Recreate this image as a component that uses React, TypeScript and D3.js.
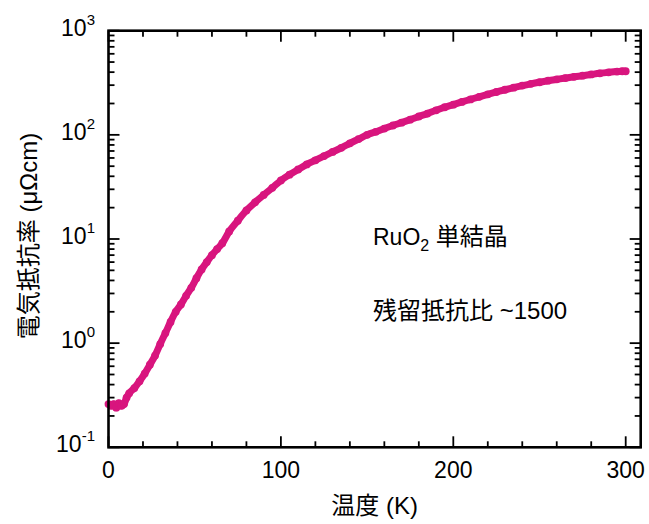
import React from "react";
import * as d3 from "d3";

const temps = [0, 1.5, 3, 4.5, 6, 7.5, 9, 10.5, 12, 15, 18, 21, 24, 27, 30, 33, 36, 39, 42, 45, 48, 51, 54, 57, 60, 63, 66, 70, 75, 80, 85, 90, 95, 100, 105, 110, 115, 120, 125, 130, 135, 140, 145, 150, 155, 160, 165, 170, 175, 180, 185, 190, 195, 200, 205, 210, 215, 220, 225, 230, 235, 240, 245, 250, 255, 260, 265, 270, 275, 280, 285, 290, 295, 298, 300];
const rho = [0.26, 0.25, 0.26, 0.24, 0.265, 0.25, 0.26, 0.3, 0.33, 0.37, 0.43, 0.51, 0.62, 0.76, 0.98, 1.25, 1.6, 2.0, 2.35, 2.85, 3.4, 4.2, 5.1, 6.0, 7.0, 8.0, 9.1, 11.8, 15, 18.8, 22.5, 26.5, 31, 36.5, 41.5, 46.5, 52, 57, 62.5, 68.5, 75, 83, 91, 100, 107, 115, 123, 131, 140, 150, 160, 172, 184, 195, 207, 219, 232, 245, 258, 271, 284, 297, 309, 320, 331, 341, 351, 361, 370, 380, 390, 398, 405, 408, 408];

const xMajor = [0, 100, 200, 300];
const xMinor = d3.range(0, 301, 20);
const yExps = [-1, 0, 1, 2, 3];

const W = 649, H = 524;
const L = 108.5, R = 640.7, T = 30.7, B = 447.3;
const COLOR = "#d8157e";
const FONT = "'Liberation Sans', Arial, 'Noto Sans CJK JP', sans-serif";

export default function App() {
  const x = d3.scaleLinear().domain([0, 308.7]).range([L, R]);
  const y = d3.scaleLog().domain([0.1, 1000]).range([B, T]);
  const pts = temps.map((t, i) => [t, rho[i]] as [number, number]);
  const line = d3.line<[number, number]>().x(d => x(d[0])).y(d => y(d[1])).curve(d3.curveMonotoneX);

  const yMinor: number[] = [];
  for (let e = -1; e < 3; e++) for (let k = 2; k <= 9; k++) yMinor.push(k * Math.pow(10, e));

  return (
    <svg width={W} height={H} style={{ position: "absolute", left: 0, top: 0, background: "#fff" }} fontFamily={FONT}>
      <rect x={0} y={0} width={W} height={H} fill="#fff" />
      <path d={line(pts) || ""} fill="none" stroke={COLOR} strokeWidth={7} strokeLinejoin="round" />
      {pts.map((p, i) => (
        <circle key={i} cx={x(p[0])} cy={y(p[1])} r={3.9} fill={COLOR} />
      ))}
      <g stroke="#000" strokeWidth={1.8}>
        {xMinor.map(v => {
          const len = xMajor.includes(v) ? 11 : 6;
          return (
            <g key={"x" + v}>
              <line x1={x(v)} x2={x(v)} y1={B} y2={B - len} />
              <line x1={x(v)} x2={x(v)} y1={T} y2={T + len} />
            </g>
          );
        })}
        {yExps.map(e => (
          <g key={"ye" + e}>
            <line x1={L} x2={L + 11} y1={y(Math.pow(10, e))} y2={y(Math.pow(10, e))} />
            <line x1={R} x2={R - 11} y1={y(Math.pow(10, e))} y2={y(Math.pow(10, e))} />
          </g>
        ))}
        {yMinor.map((v, i) => (
          <g key={"ym" + i}>
            <line x1={L} x2={L + 6} y1={y(v)} y2={y(v)} />
            <line x1={R} x2={R - 6} y1={y(v)} y2={y(v)} />
          </g>
        ))}
      </g>
      <rect x={L} y={T} width={R - L} height={B - T} fill="none" stroke="#000" strokeWidth={2.6} />
      {xMajor.map(v => (
        <text key={"xl" + v} x={x(v)} y={478} textAnchor="middle" fontSize={23}>{v}</text>
      ))}
      {yExps.map(e => (
        <text key={"yl" + e} x={95} y={y(Math.pow(10, e)) + 5} textAnchor="end" fontSize={23}>
          10<tspan fontSize={15} dy={-11}>{e}</tspan>
        </text>
      ))}
      <text x={(L + R) / 2} y={514} textAnchor="middle" fontSize={24}>温度 (K)</text>
      <text transform={`translate(37, 236) rotate(-90)`} textAnchor="middle" fontSize={24}>電気抵抗率 (μΩcm)</text>
      <text x={373} y={245} fontSize={23}>
        RuO<tspan fontSize={16} dy={6}>2</tspan><tspan dy={-6} fontSize={24}> 単結晶</tspan>
      </text>
      <text x={373} y={319} fontSize={24}>残留抵抗比 ~1500</text>
    </svg>
  );
}
